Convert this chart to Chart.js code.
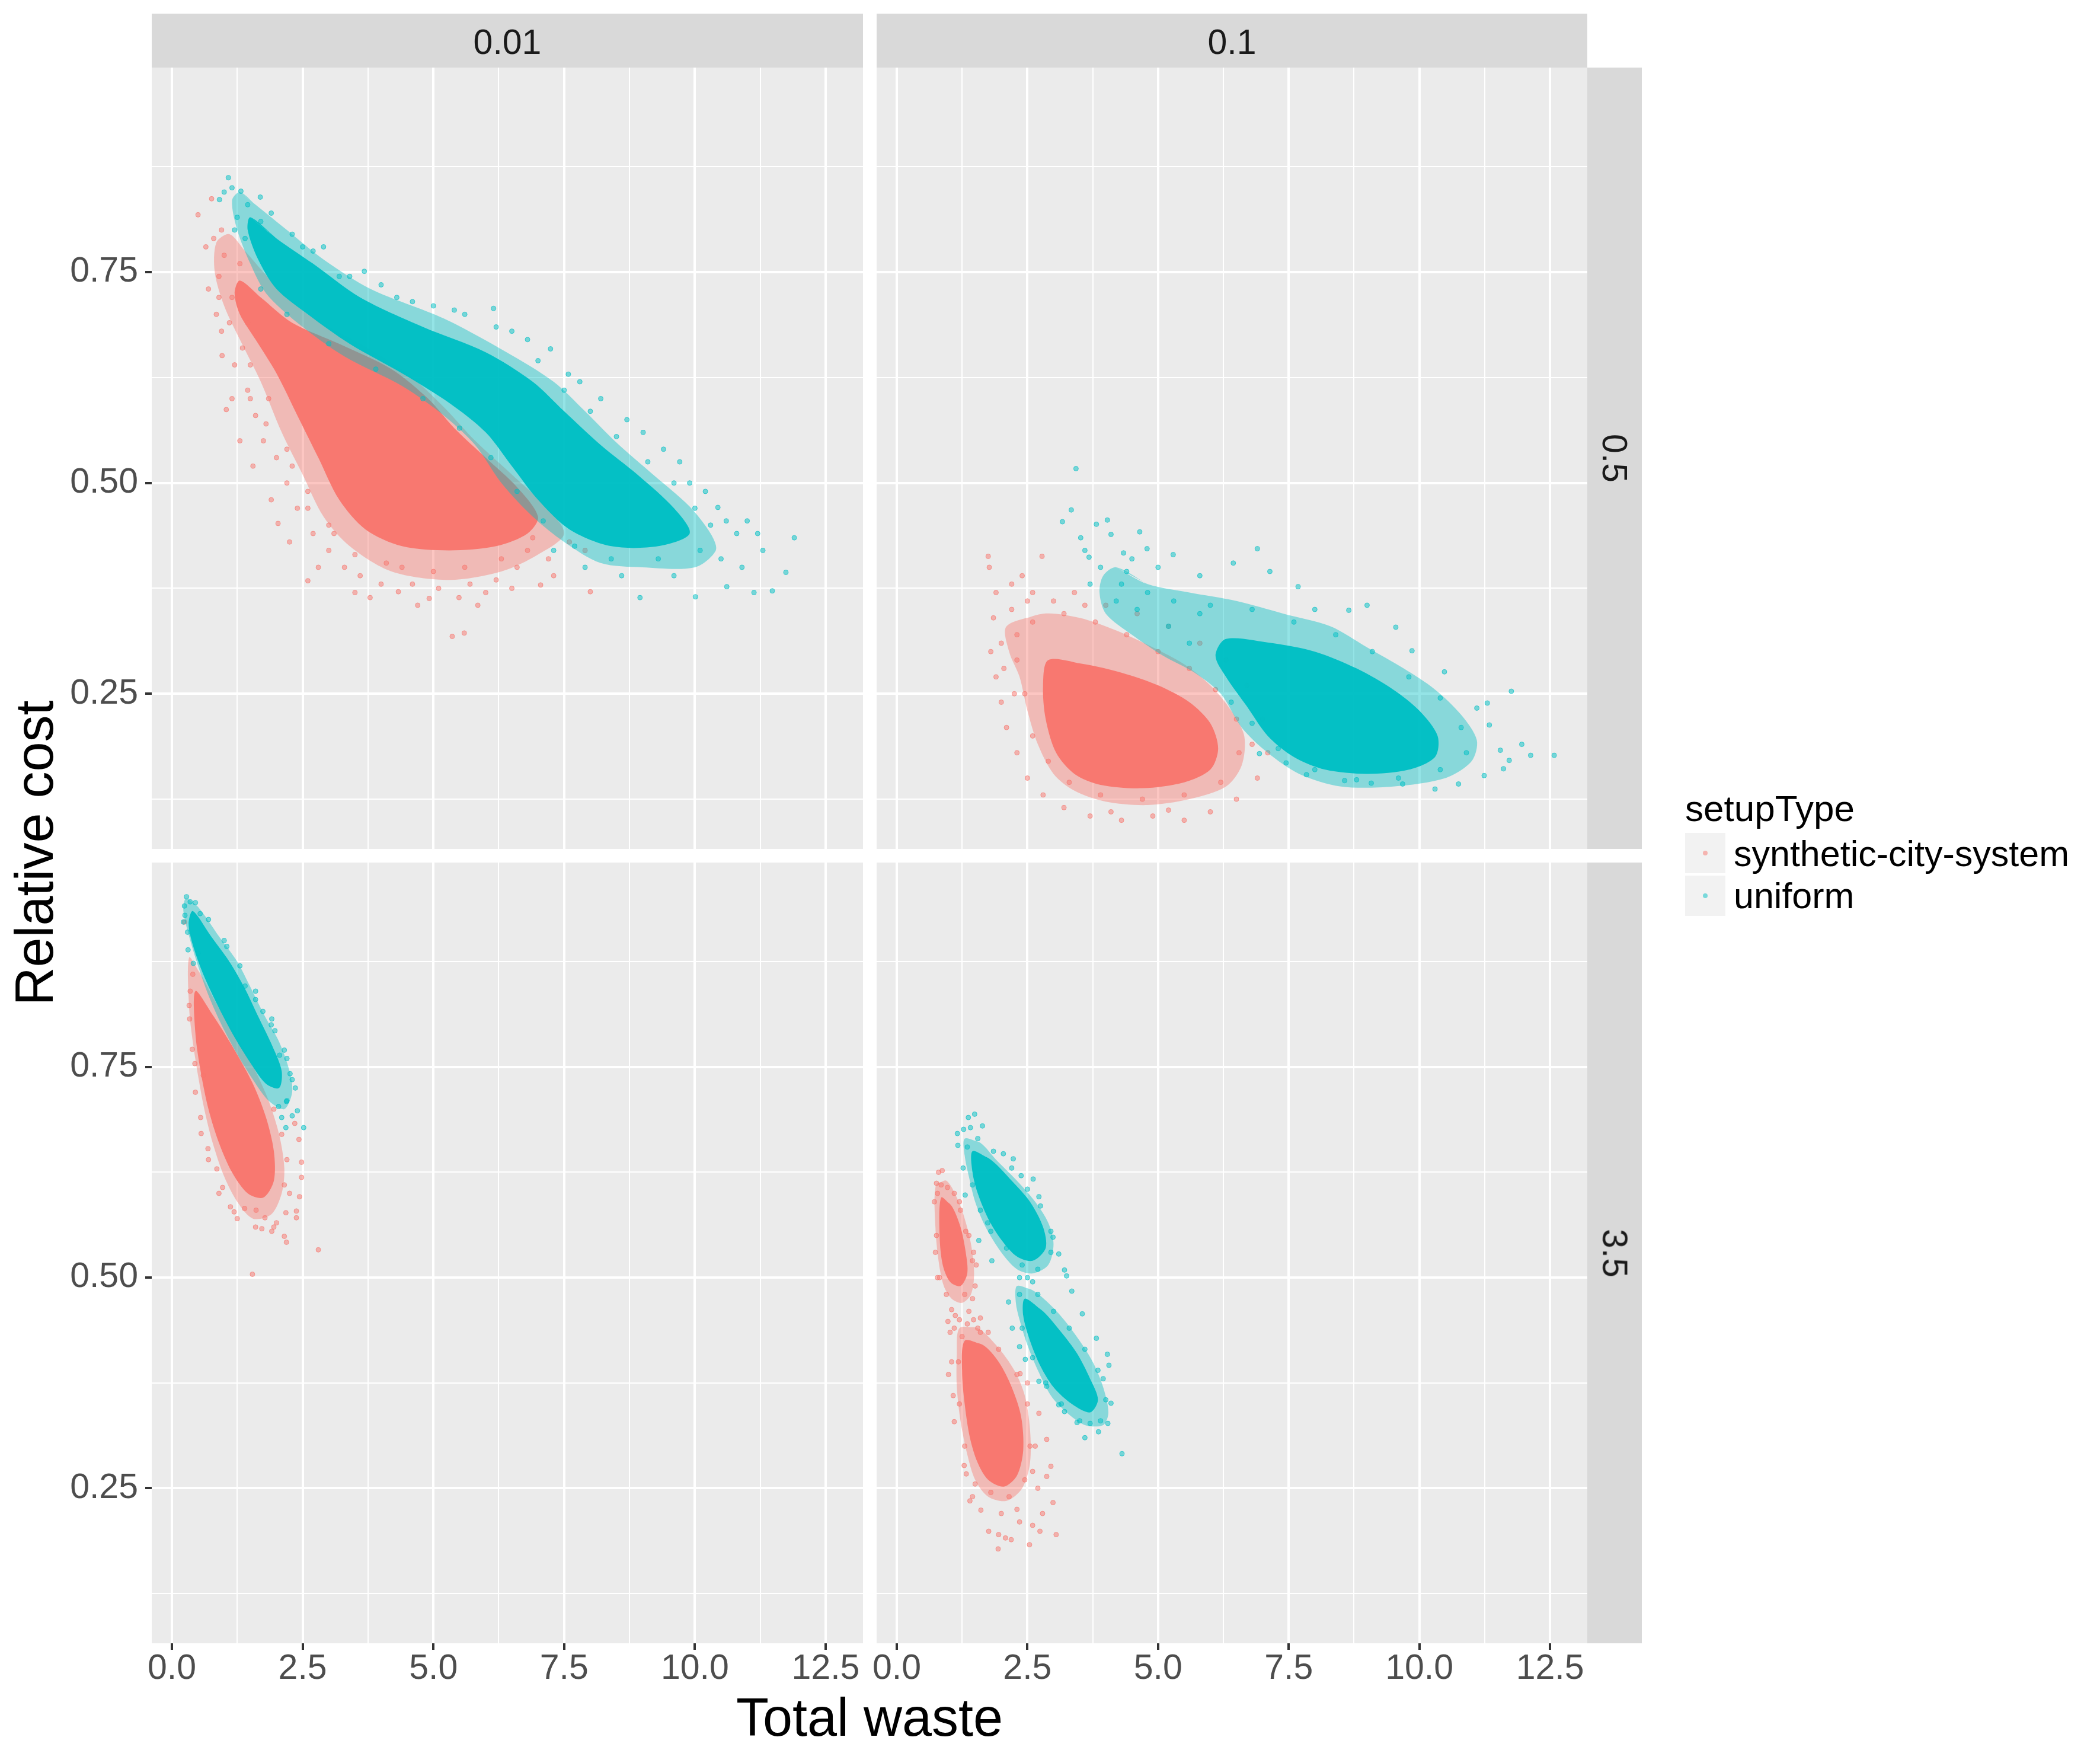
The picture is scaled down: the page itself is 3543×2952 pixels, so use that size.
<!DOCTYPE html>
<html>
<head>
<meta charset="utf-8">
<script src="https://cdn.jsdelivr.net/npm/chart.js@4.4.1/dist/chart.umd.min.js"></script>
<style>
html,body{margin:0;padding:0;background:#ffffff;}
body{width:3543px;height:2952px;position:relative;overflow:hidden;font-family:'Liberation Sans',Arial,Helvetica,sans-serif;}
canvas{position:absolute;left:0;top:0;}
.t{position:absolute;white-space:nowrap;}
</style>
</head>
<body>
<script>
// ---------------- labels ----------------
const colLabels = ['0.01', '0.1'];
const rowLabels = ['0.5', '3.5'];
const seriesNames = ['synthetic-city-system', 'uniform'];
const seriesColors = ['#F8766D', '#00BFC4'];
const legendTitle = 'setupType';
const xTitle = 'Total waste';
const yTitle = 'Relative cost';
const xMajorTicks = [0, 2.5, 5, 7.5, 10, 12.5];
const xMajorLabels = ['0.0', '2.5', '5.0', '7.5', '10.0', '12.5'];
const xMinorTicks = [1.25, 3.75, 6.25, 8.75, 11.25];
const yMajorTicks = [0.25, 0.5, 0.75];
const yMajorLabels = ['0.25', '0.50', '0.75'];
const yMinorTicks = [0.125, 0.375, 0.625, 0.875];

// ---------------- data ([total waste, relative cost]) ----------------
// panel 0.01 / 0.5
const p1RedHalo = [[1.1,0.795],[1.4,0.775],[1.9,0.74],[2.6,0.70],[3.6,0.665],[4.5,0.63],[5.2,0.59],[5.8,0.55],[6.5,0.51],[7.1,0.475],[7.5,0.44],[7.0,0.415],[6.3,0.395],[5.3,0.385],[4.2,0.395],[3.4,0.425],[2.9,0.46],[2.5,0.51],[2.1,0.56],[1.7,0.62],[1.3,0.67],[1.0,0.71],[0.82,0.75],[0.85,0.785],[1.1,0.795]];
const p1RedCore = [[1.3,0.74],[1.7,0.72],[2.3,0.69],[3.2,0.665],[4.2,0.635],[4.9,0.60],[5.4,0.565],[6.0,0.53],[6.6,0.495],[7.0,0.46],[6.8,0.44],[6.2,0.425],[5.3,0.42],[4.4,0.425],[3.7,0.445],[3.2,0.48],[2.8,0.53],[2.4,0.58],[2.0,0.63],[1.6,0.67],[1.3,0.70],[1.2,0.725],[1.3,0.74]];
const p1RedDots = [[0.50,0.818],[0.76,0.837],[0.65,0.780],[1.04,0.587],[0.96,0.651],[2.03,0.452],[2.60,0.384],[3.79,0.364],[4.33,0.371],[4.92,0.363],[5.49,0.364],[5.85,0.355],[5.36,0.318],[5.59,0.322],[8.0,0.371],[7.05,0.379],[0.9,0.72],[1.1,0.69],[0.85,0.70],[1.2,0.64],[1.45,0.61],[1.6,0.58],[1.75,0.55],[1.5,0.60],[2.0,0.53],[2.2,0.50],[2.4,0.47],[2.7,0.44],[3.0,0.42],[3.3,0.40],[3.6,0.39],[4.0,0.38],[4.6,0.38],[5.1,0.375],[5.7,0.38],[6.2,0.385],[6.6,0.40],[7.2,0.41],[7.6,0.43],[7.9,0.42],[1.3,0.76],[1.0,0.77],[0.9,0.745],[1.15,0.72],[1.35,0.66],[1.85,0.6],[2.3,0.52],[2.6,0.49],[3.1,0.44],[4.4,0.40],[5.0,0.395],[6.8,0.42],[1.9,0.48],[2.25,0.43],[2.8,0.40],[3.5,0.37],[4.7,0.355],[6.0,0.37],[6.5,0.375],[7.3,0.39],[1.3,0.55],[1.55,0.52],[1.15,0.60],[0.7,0.73],[0.95,0.68],[1.45,0.69],[1.5,0.64],[1.8,0.57],[2.2,0.54],[2.6,0.47],[3.0,0.45],[3.5,0.415],[4.1,0.405],[5.6,0.40],[6.3,0.41],[6.9,0.435],[0.8,0.79],[0.95,0.80]];
const p1CyanHalo = [[1.3,0.845],[1.6,0.83],[2.2,0.80],[2.9,0.765],[3.8,0.73],[5.2,0.695],[6.4,0.655],[7.3,0.62],[7.9,0.585],[8.5,0.548],[9.2,0.51],[9.9,0.472],[10.3,0.44],[10.4,0.42],[10.0,0.40],[9.0,0.40],[8.2,0.405],[7.5,0.43],[6.9,0.46],[6.3,0.50],[5.8,0.545],[5.2,0.58],[4.4,0.615],[3.3,0.65],[2.4,0.69],[1.8,0.725],[1.5,0.76],[1.25,0.80],[1.15,0.835],[1.3,0.845]];
const p1CyanCore = [[1.5,0.815],[2.0,0.79],[2.7,0.76],[3.6,0.72],[4.8,0.685],[6.0,0.655],[6.9,0.62],[7.5,0.585],[8.2,0.545],[8.9,0.51],[9.6,0.47],[9.9,0.44],[9.3,0.425],[8.4,0.425],[7.6,0.445],[7.0,0.48],[6.5,0.52],[6.0,0.56],[5.3,0.595],[4.4,0.63],[3.4,0.665],[2.6,0.70],[2.0,0.73],[1.65,0.765],[1.45,0.80],[1.5,0.815]];
const p1CyanDots = [[1.08,0.862],[0.91,0.836],[1.32,0.846],[1.69,0.839],[1.45,0.83],[3.68,0.751],[6.15,0.707],[7.24,0.659],[7.58,0.629],[9.01,0.560],[9.71,0.525],[10.44,0.471],[11.0,0.455],[11.90,0.435],[11.74,0.394],[11.48,0.372],[11.13,0.370],[10.61,0.377],[10.01,0.365],[8.95,0.364],[3.2,0.745],[4.3,0.72],[5.0,0.71],[5.6,0.70],[6.8,0.67],[8.2,0.60],[8.7,0.575],[9.4,0.54],[10.2,0.49],[10.8,0.44],[11.3,0.42],[10.9,0.40],[10.5,0.41],[9.6,0.39],[8.6,0.39],[7.9,0.40],[7.3,0.42],[2.5,0.78],[2.9,0.78],[1.25,0.815],[1.9,0.82],[4.0,0.735],[6.5,0.68],[7.8,0.62],[9.9,0.50],[10.6,0.455],[11.2,0.44],[1.2,0.80],[1.4,0.79],[1.7,0.81],[2.3,0.795],[2.7,0.775],[3.4,0.745],[4.6,0.715],[5.4,0.705],[6.2,0.685],[7.0,0.645],[7.5,0.61],[8.0,0.585],[8.5,0.555],[9.1,0.525],[9.6,0.50],[10.0,0.47],[10.3,0.45],[10.1,0.42],[9.3,0.41],[8.4,0.41],[7.7,0.425],[7.1,0.455],[6.6,0.49],[6.1,0.53],[5.5,0.565],[4.8,0.60],[3.9,0.635],[3.0,0.665],[2.2,0.70],[1.7,0.73],[1.15,0.85],[1.0,0.845]];
// panel 0.1 / 0.5
const p2RedHalo = [[2.1,0.33],[2.8,0.345],[3.5,0.34],[4.2,0.325],[4.9,0.305],[5.5,0.285],[6.0,0.26],[6.4,0.23],[6.65,0.20],[6.6,0.165],[6.3,0.14],[5.6,0.125],[4.8,0.118],[4.0,0.122],[3.4,0.135],[3.0,0.155],[2.7,0.19],[2.5,0.23],[2.35,0.27],[2.15,0.30],[2.1,0.33]];
const p2RedCore = [[2.9,0.29],[3.6,0.285],[4.3,0.275],[5.0,0.26],[5.6,0.24],[6.0,0.215],[6.15,0.185],[6.0,0.16],[5.5,0.145],[4.7,0.138],[3.9,0.142],[3.4,0.155],[3.05,0.18],[2.85,0.22],[2.8,0.26],[2.9,0.29]];
const p2RedDots = [[1.75,0.413],[2.78,0.413],[1.77,0.40],[2.4,0.39],[2.2,0.38],[1.9,0.37],[2.6,0.37],[3.0,0.36],[3.4,0.37],[4.0,0.355],[1.85,0.34],[1.8,0.30],[1.9,0.27],[2.0,0.24],[2.1,0.21],[2.3,0.18],[2.5,0.15],[2.8,0.13],[3.2,0.115],[3.7,0.105],[4.3,0.10],[4.9,0.105],[5.5,0.10],[6.0,0.11],[6.5,0.125],[6.9,0.15],[7.1,0.18],[7.0,0.22],[6.7,0.26],[6.3,0.29],[5.8,0.31],[5.2,0.33],[4.6,0.345],[2.2,0.35],[2.05,0.28],[2.25,0.25],[4.1,0.11],[5.2,0.112],[6.8,0.19],[2.3,0.32],[2.6,0.335],[3.2,0.345],[3.8,0.335],[4.4,0.32],[5.0,0.30],[5.6,0.28],[6.1,0.255],[6.5,0.22],[6.55,0.18],[6.2,0.145],[5.5,0.13],[4.7,0.125],[3.9,0.13],[3.3,0.145],[2.9,0.17],[2.6,0.20],[2.45,0.25],[2.3,0.29],[2.0,0.31],[2.5,0.36],[3.6,0.355]];
const p2CyanHalo = [[4.2,0.40],[4.8,0.38],[5.6,0.37],[6.5,0.36],[7.4,0.345],[8.3,0.33],[9.0,0.305],[9.7,0.28],[10.3,0.255],[10.8,0.225],[11.1,0.195],[11.0,0.17],[10.5,0.15],[9.5,0.14],[8.5,0.14],[7.7,0.155],[7.1,0.18],[6.6,0.21],[6.2,0.25],[5.7,0.275],[5.1,0.295],[4.5,0.32],[4.0,0.345],[3.88,0.37],[3.95,0.39],[4.2,0.40]];
const p2CyanCore = [[6.3,0.315],[7.2,0.31],[8.0,0.30],[8.8,0.28],[9.5,0.255],[10.0,0.23],[10.35,0.20],[10.3,0.175],[9.8,0.16],[9.0,0.155],[8.2,0.16],[7.6,0.175],[7.1,0.20],[6.7,0.235],[6.3,0.27],[6.1,0.295],[6.3,0.315]];
const p2CyanDots = [[3.43,0.517],[3.34,0.468],[3.17,0.454],[4.03,0.456],[3.82,0.451],[4.65,0.442],[4.10,0.439],[3.52,0.435],[4.79,0.422],[5.29,0.415],[6.90,0.422],[6.44,0.405],[7.14,0.395],[7.68,0.377],[4.34,0.417],[3.68,0.412],[11.76,0.253],[11.30,0.239],[11.10,0.233],[11.96,0.190],[12.13,0.177],[12.58,0.177],[11.72,0.171],[11.55,0.183],[11.34,0.213],[11.61,0.161],[11.24,0.153],[10.75,0.143],[10.30,0.137],[9.68,0.143],[9.08,0.144],[8.57,0.147],[7.84,0.154],[7.45,0.168],[6.94,0.179],[9.0,0.355],[9.55,0.329],[9.86,0.301],[10.48,0.276],[8.65,0.349],[5.0,0.40],[5.8,0.39],[3.7,0.38],[3.9,0.40],[4.4,0.395],[8.0,0.35],[4.3,0.38],[4.8,0.37],[5.3,0.36],[6.0,0.355],[6.8,0.35],[7.6,0.335],[8.4,0.32],[9.1,0.30],[9.8,0.27],[10.4,0.245],[10.8,0.21],[10.9,0.18],[10.4,0.16],[9.6,0.15],[8.8,0.148],[8.0,0.16],[7.3,0.185],[6.8,0.215],[6.4,0.24],[4.6,0.35],[5.2,0.33],[5.6,0.31],[4.2,0.36],[3.6,0.42],[4.5,0.41],[5.8,0.345]];
// panel 0.01 / 3.5
const p3RedHalo = [[0.33,0.88],[0.55,0.86],[0.9,0.82],[1.3,0.78],[1.6,0.745],[1.85,0.71],[2.05,0.67],[2.15,0.63],[2.1,0.60],[1.9,0.575],[1.55,0.57],[1.25,0.59],[1.0,0.62],[0.78,0.66],[0.62,0.70],[0.5,0.74],[0.4,0.78],[0.33,0.82],[0.33,0.88]];
const p3RedCore = [[0.45,0.84],[0.8,0.81],[1.2,0.77],[1.55,0.73],[1.8,0.69],[1.95,0.65],[1.95,0.615],[1.75,0.595],[1.45,0.60],[1.15,0.625],[0.9,0.66],[0.7,0.70],[0.55,0.745],[0.45,0.79],[0.45,0.84]];
const p3RedDots = [[2.80,0.533],[1.54,0.504],[2.19,0.542],[2.15,0.549],[1.91,0.555],[1.72,0.558],[2.38,0.571],[2.38,0.579],[2.44,0.596],[2.48,0.619],[2.48,0.637],[2.43,0.664],[2.35,0.683],[2.18,0.577],[1.39,0.582],[1.19,0.578],[1.12,0.584],[0.97,0.607],[0.86,0.629],[0.69,0.653],[0.56,0.671],[0.44,0.754],[0.33,0.823],[0.34,0.807],[0.39,0.771],[1.78,0.571],[1.61,0.580],[0.24,0.922],[2.25,0.60],[2.0,0.565],[0.4,0.86],[0.35,0.84],[0.45,0.72],[0.55,0.69],[0.7,0.64],[0.9,0.60],[1.25,0.57],[1.6,0.56],[1.95,0.56],[2.15,0.61],[2.2,0.64],[2.1,0.67],[1.95,0.70],[0.6,0.74]];
const p3CyanHalo = [[0.27,0.95],[0.5,0.94],[0.9,0.905],[1.25,0.875],[1.5,0.845],[1.78,0.81],[2.05,0.78],[2.25,0.745],[2.3,0.72],[2.15,0.70],[1.85,0.71],[1.55,0.735],[1.25,0.765],[0.95,0.80],[0.7,0.835],[0.5,0.87],[0.33,0.905],[0.22,0.935],[0.27,0.95]];
const p3CyanCore = [[0.4,0.935],[0.75,0.905],[1.1,0.875],[1.38,0.845],[1.65,0.81],[1.92,0.775],[2.1,0.745],[2.05,0.725],[1.8,0.73],[1.5,0.755],[1.2,0.785],[0.9,0.82],[0.6,0.86],[0.4,0.895],[0.32,0.92],[0.4,0.935]];
const p3CyanDots = [[2.52,0.678],[2.26,0.742],[2.36,0.725],[2.40,0.698],[2.18,0.678],[2.30,0.692],[2.10,0.690],[2.04,0.703],[2.19,0.709],[2.06,0.764],[1.91,0.807],[1.97,0.793],[1.74,0.816],[1.40,0.846],[1.05,0.893],[0.54,0.932],[0.24,0.941],[0.22,0.922],[0.31,0.889],[0.41,0.873],[0.28,0.952],[0.35,0.946],[2.2,0.76],[1.6,0.83],[0.25,0.93],[0.45,0.945],[0.7,0.925],[1.0,0.90],[1.3,0.87],[1.6,0.84],[1.9,0.80],[2.15,0.77],[2.3,0.735],[2.2,0.71],[0.3,0.91],[0.5,0.885]];
// panel 0.1 / 3.5
const p4RedUpperHalo = [[0.75,0.61],[0.95,0.615],[1.15,0.595],[1.3,0.57],[1.42,0.54],[1.48,0.505],[1.42,0.48],[1.25,0.47],[1.05,0.475],[0.9,0.49],[0.8,0.52],[0.74,0.56],[0.75,0.61]];
const p4RedUpperCore = [[0.85,0.595],[1.05,0.585],[1.22,0.56],[1.32,0.53],[1.35,0.505],[1.22,0.49],[1.02,0.495],[0.88,0.515],[0.82,0.55],[0.85,0.595]];
const p4RedLowerHalo = [[1.2,0.44],[1.55,0.44],[1.9,0.42],[2.25,0.39],[2.45,0.36],[2.55,0.32],[2.55,0.28],[2.4,0.25],[2.1,0.235],[1.75,0.24],[1.5,0.26],[1.35,0.29],[1.22,0.33],[1.15,0.37],[1.15,0.41],[1.2,0.44]];
const p4RedLowerCore = [[1.3,0.425],[1.65,0.42],[1.95,0.40],[2.2,0.37],[2.38,0.335],[2.42,0.295],[2.3,0.265],[2.05,0.252],[1.75,0.26],[1.55,0.28],[1.4,0.31],[1.3,0.35],[1.25,0.39],[1.3,0.425]];
const p4RedDots = [[0.80,0.625],[0.87,0.627],[0.76,0.612],[0.97,0.607],[1.10,0.60],[0.72,0.59],[1.22,0.58],[1.32,0.555],[1.47,0.53],[1.52,0.515],[1.45,0.475],[1.38,0.46],[1.12,0.455],[1.05,0.462],[1.2,0.45],[0.98,0.448],[1.47,0.45],[1.55,0.44],[1.1,0.44],[1.35,0.445],[1.6,0.452],[1.75,0.435],[1.94,0.178],[2.54,0.183],[3.05,0.195],[2.74,0.199],[1.76,0.199],[1.95,0.195],[2.08,0.191],[2.19,0.189],[2.99,0.233],[2.79,0.220],[1.61,0.224],[2.35,0.210],[2.60,0.206],[2.87,0.308],[2.95,0.276],[2.87,0.264],[2.72,0.339],[2.50,0.375],[2.36,0.386],[1.29,0.277],[1.10,0.329],[0.99,0.385],[1.02,0.435],[1.33,0.267],[0.78,0.50],[0.74,0.53],[1.5,0.49],[2.0,0.22],[2.3,0.225],[1.45,0.24],[2.65,0.30],[1.08,0.36],[1.05,0.40],[0.78,0.60],[0.85,0.61],[1.2,0.59],[1.38,0.55],[1.45,0.52],[1.3,0.48],[0.95,0.48],[0.82,0.50],[0.76,0.55],[1.25,0.43],[1.6,0.435],[1.95,0.415],[2.3,0.385],[2.5,0.35],[2.55,0.30],[2.45,0.26],[2.15,0.24],[1.8,0.245],[1.5,0.255],[1.3,0.30],[1.2,0.35],[1.18,0.40],[2.6,0.27],[2.7,0.25],[1.4,0.235]];
const p4CyanUpperHalo = [[1.3,0.665],[1.6,0.66],[1.9,0.64],[2.3,0.615],[2.65,0.59],[2.9,0.565],[3.0,0.54],[2.9,0.515],[2.6,0.505],[2.3,0.51],[2.0,0.53],[1.7,0.56],[1.5,0.59],[1.38,0.62],[1.3,0.645],[1.3,0.665]];
const p4CyanUpperCore = [[1.45,0.65],[1.8,0.64],[2.2,0.615],[2.55,0.59],[2.8,0.56],[2.85,0.535],[2.6,0.52],[2.3,0.525],[2.0,0.545],[1.75,0.57],[1.55,0.60],[1.45,0.625],[1.45,0.65]];
const p4CyanLowerHalo = [[2.3,0.49],[2.6,0.485],[2.9,0.47],[3.2,0.45],[3.5,0.425],[3.75,0.40],[3.95,0.37],[4.05,0.34],[3.95,0.325],[3.6,0.325],[3.25,0.34],[2.95,0.36],[2.7,0.39],[2.5,0.42],[2.35,0.45],[2.28,0.47],[2.3,0.49]];
const p4CyanLowerCore = [[2.45,0.475],[2.8,0.46],[3.15,0.435],[3.45,0.41],[3.7,0.38],[3.85,0.355],[3.7,0.34],[3.35,0.35],[3.0,0.37],[2.75,0.395],[2.55,0.425],[2.42,0.455],[2.45,0.475]];
const p4CyanDots = [[1.37,0.690],[1.49,0.694],[1.16,0.671],[1.28,0.676],[1.41,0.678],[1.64,0.680],[1.17,0.657],[4.31,0.291],[4.04,0.327],[3.86,0.317],[4.10,0.351],[4.03,0.409],[4.06,0.396],[3.82,0.428],[3.70,0.327],[3.45,0.328],[3.21,0.341],[3.10,0.349],[2.87,0.371],[2.72,0.377],[2.46,0.403],[2.35,0.418],[2.21,0.44],[2.14,0.471],[3.35,0.484],[3.55,0.457],[3.25,0.502],[3.21,0.509],[3.10,0.528],[2.99,0.548],[2.72,0.596],[2.61,0.617],[2.38,0.621],[2.23,0.641],[2.04,0.647],[1.74,0.565],[1.57,0.544],[1.82,0.52],[1.31,0.598],[1.27,0.63],[2.5,0.50],[2.6,0.495],[2.35,0.50],[3.95,0.38],[3.6,0.31],[1.35,0.655],[1.55,0.665],[1.85,0.65],[2.2,0.63],[2.5,0.605],[2.75,0.585],[2.95,0.555],[2.95,0.53],[2.7,0.51],[2.4,0.515],[2.1,0.535],[1.8,0.555],[1.6,0.58],[1.45,0.61],[2.35,0.48],[2.7,0.48],[3.0,0.46],[3.3,0.44],[3.6,0.415],[3.85,0.39],[4.0,0.355],[3.9,0.33],[3.5,0.33],[3.15,0.35],[2.85,0.375],[2.6,0.405],[2.4,0.44]];

// ---------------- layout ----------------
const W = 3543, H = 2952;
const FONT = "'Liberation Sans', Arial, Helvetica, sans-serif";
const YW = 200, XH = 150;
const xMin = -0.385, xMax = 13.214, yMin = 0.066, yMax = 0.9926;

const panels = [
  {area:{left:256,top:114,right:1456,bottom:1432}, showX:false, showY:true,
   series:[{halos:[p1RedHalo],cores:[p1RedCore],dots:p1RedDots},{halos:[p1CyanHalo],cores:[p1CyanCore],dots:p1CyanDots}]},
  {area:{left:1479,top:114,right:2678,bottom:1432}, showX:false, showY:false,
   series:[{halos:[p2RedHalo],cores:[p2RedCore],dots:p2RedDots},{halos:[p2CyanHalo],cores:[p2CyanCore],dots:p2CyanDots}]},
  {area:{left:256,top:1455,right:1456,bottom:2772}, showX:true, showY:true,
   series:[{halos:[p3RedHalo],cores:[p3RedCore],dots:p3RedDots},{halos:[p3CyanHalo],cores:[p3CyanCore],dots:p3CyanDots}]},
  {area:{left:1479,top:1455,right:2678,bottom:2772}, showX:true, showY:false,
   series:[{halos:[p4RedUpperHalo,p4RedLowerHalo],cores:[p4RedUpperCore,p4RedLowerCore],dots:p4RedDots},
           {halos:[p4CyanUpperHalo,p4CyanLowerHalo],cores:[p4CyanUpperCore,p4CyanLowerCore],dots:p4CyanDots}]}
];

function rgba(hex, a) {
  const n = parseInt(hex.slice(1), 16);
  return 'rgba(' + (n >> 16) + ',' + ((n >> 8) & 255) + ',' + (n & 255) + ',' + a + ')';
}
function toXY(arr) { return arr.map(p => ({x: p[0], y: p[1]})); }

function polyDs(points, si, alpha, order) {
  // outline is closed (last = first); repeating the 2nd vertex makes the joint smooth
  return {data: toXY(points.concat([points[1]])), showLine: true, fill: 'shape', tension: 0.3,
    backgroundColor: rgba(seriesColors[si], alpha), borderColor: 'rgba(0,0,0,0)', borderWidth: 0,
    pointRadius: 0, pointHoverRadius: 0, order: order};
}
function dotDs(points, si, order) {
  return {data: toXY(points), showLine: false,
    backgroundColor: rgba(seriesColors[si], 0.5), borderColor: rgba(seriesColors[si], 0.65), borderWidth: 1,
    pointRadius: 4, order: order};
}

const bgPlugin = {
  id: 'panelBg',
  beforeDraw(chart) {
    const {ctx, chartArea: a} = chart;
    ctx.save();
    ctx.fillStyle = '#EBEBEB';
    ctx.fillRect(a.left, a.top, a.right - a.left, a.bottom - a.top);
    ctx.restore();
  }
};

const isIn = (arr, v) => arr.some(t => Math.abs(t - v) < 1e-9);
const xAll = xMajorTicks.concat(xMinorTicks).sort((a, b) => a - b);
const yAll = yMajorTicks.concat(yMinorTicks).sort((a, b) => a - b);

panels.forEach(p => {
  const cv = document.createElement('canvas');
  cv.width = W; cv.height = H;
  cv.style.width = W + 'px'; cv.style.height = H + 'px';
  document.body.appendChild(cv);
  const datasets = [];
  let order = 50;
  p.series.forEach((s, si) => {
    s.halos.forEach(h => datasets.push(polyDs(h, si, 0.42, order--)));
    s.cores.forEach(c => datasets.push(polyDs(c, si, 0.97, order--)));
    datasets.push(dotDs(s.dots, si, order--));
  });
  const a = p.area;
  new Chart(cv, {
    type: 'scatter',
    data: {datasets},
    options: {
      responsive: false, animation: false, devicePixelRatio: 1, events: [],
      layout: {padding: {left: a.left - YW, top: a.top, right: W - a.right, bottom: H - a.bottom - XH}},
      plugins: {legend: {display: false}, tooltip: {enabled: false}},
      scales: {
        x: {
          type: 'linear', position: 'bottom', min: xMin, max: xMax,
          afterBuildTicks: s => { s.ticks = xAll.map(v => ({value: v})); },
          afterFit: s => { s.height = XH; },
          border: {display: false},
          grid: {
            color: '#FFFFFF',
            lineWidth: c => isIn(xMajorTicks, c.tick.value) ? 4 : 2,
            drawTicks: p.showX, tickLength: 11, tickWidth: 4,
            tickColor: c => isIn(xMajorTicks, c.tick.value) ? '#333333' : 'rgba(0,0,0,0)'
          },
          ticks: {
            display: p.showX, autoSkip: false, maxRotation: 0, minRotation: 0, padding: 0,
            color: '#4D4D4D', font: {family: FONT, size: 59, lineHeight: 1.12},
            callback: v => { const i = xMajorTicks.findIndex(t => Math.abs(t - v) < 1e-9); return i >= 0 ? xMajorLabels[i] : ''; }
          }
        },
        y: {
          type: 'linear', position: 'left', min: yMin, max: yMax,
          afterBuildTicks: s => { s.ticks = yAll.map(v => ({value: v})); },
          afterFit: s => { s.width = YW; },
          border: {display: false},
          grid: {
            color: '#FFFFFF',
            lineWidth: c => isIn(yMajorTicks, c.tick.value) ? 4 : 2,
            drawTicks: p.showY, tickLength: 11, tickWidth: 4,
            tickColor: c => isIn(yMajorTicks, c.tick.value) ? '#333333' : 'rgba(0,0,0,0)'
          },
          ticks: {
            display: p.showY, autoSkip: false, padding: 12,
            color: '#4D4D4D', font: {family: FONT, size: 59},
            callback: v => { const i = yMajorTicks.findIndex(t => Math.abs(t - v) < 1e-9); return i >= 0 ? yMajorLabels[i] : ''; }
          }
        }
      }
    },
    plugins: [bgPlugin]
  });
});

// ---------------- text / strips / legend ----------------
function div(styles, text) {
  const d = document.createElement('div');
  d.className = 't';
  Object.assign(d.style, styles);
  if (text !== undefined) d.textContent = text;
  document.body.appendChild(d);
  return d;
}
[panels[0], panels[1]].forEach((p, i) => {
  const a = p.area;
  const s = div({left: a.left + 'px', top: '23px', width: (a.right - a.left) + 'px', height: '91px', background: '#D9D9D9'});
  const t = document.createElement('div');
  Object.assign(t.style, {position: 'absolute', left: '0', top: '3px', width: '100%', height: '88px', lineHeight: '91px',
    textAlign: 'center', fontSize: '59px', color: '#1A1A1A', fontFamily: FONT});
  t.textContent = colLabels[i];
  s.appendChild(t);
});
[panels[1], panels[3]].forEach((p, i) => {
  const a = p.area, h = a.bottom - a.top, w = 92;
  const s = div({left: a.right + 'px', top: a.top + 'px', width: w + 'px', height: h + 'px', background: '#D9D9D9'});
  const t = document.createElement('div');
  Object.assign(t.style, {position: 'absolute', left: ((w - h) / 2) + 'px', top: ((h - w) / 2) + 'px', width: h + 'px', height: w + 'px',
    lineHeight: w + 'px', textAlign: 'center', fontSize: '59px', color: '#1A1A1A', fontFamily: FONT, transform: 'rotate(90deg)'});
  t.textContent = rowLabels[i];
  s.appendChild(t);
});
div({left: (1467 - 600) + 'px', top: '2852px', width: '1200px', textAlign: 'center', fontSize: '90px', lineHeight: '90px', color: '#000'}, xTitle);
div({left: (58 - 600) + 'px', top: (1439 - 45) + 'px', width: '1200px', height: '90px', textAlign: 'center', fontSize: '90px', lineHeight: '90px',
  color: '#000', transform: 'rotate(-90deg)'}, yTitle);
div({left: '2843px', top: '1333px', fontSize: '62px', lineHeight: '62px', color: '#000'}, legendTitle);
seriesNames.forEach((name, i) => {
  const top = 1405 + i * 72;
  const k = div({left: '2843px', top: top + 'px', width: '68px', height: '68px', background: '#F2F2F2'});
  const dot = document.createElement('div');
  Object.assign(dot.style, {position: 'absolute', left: '30px', top: '30px', width: '8px', height: '8px', borderRadius: '50%',
    background: rgba(seriesColors[i], 0.5)});
  k.appendChild(dot);
  div({left: '2925px', top: (1410 + i * 71) + 'px', fontSize: '61px', lineHeight: '61px', color: '#000'}, name);
});
</script>
</body>
</html>
